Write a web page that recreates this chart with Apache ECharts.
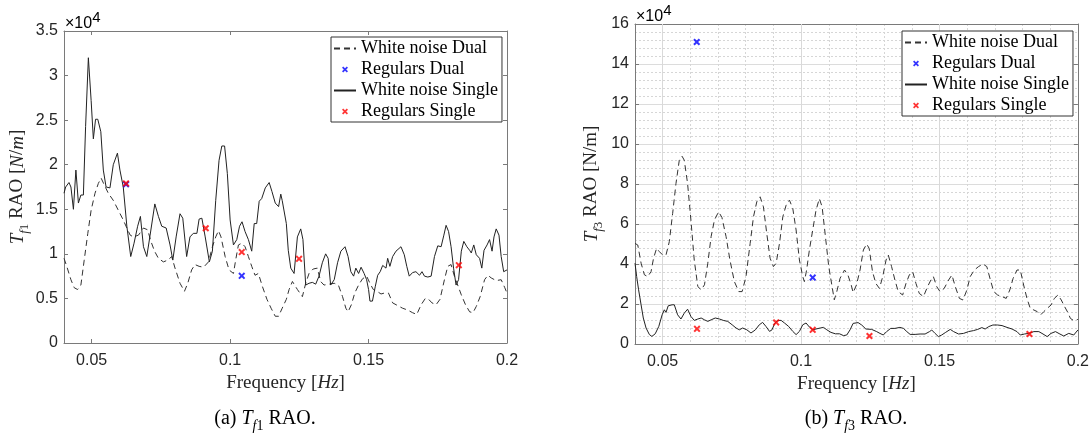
<!DOCTYPE html>
<html><head><meta charset="utf-8">
<script src="https://cdn.jsdelivr.net/npm/echarts@6/dist/echarts.min.js"></script>
<style>html,body{margin:0;padding:0;background:#fff}#c{width:1092px;height:436px}</style>
</head><body><div id="c"></div>
<script>
// ---------- data (frequency [Hz], RAO in units of 1e4 N/m) ----------
const xTickValues = [0.05, 0.1, 0.15, 0.2];
const xRange = [0.04, 0.2];
const yRangeA = [0, 3.5], yStepA = 0.5;
const yRangeB = [0, 16], yStepB = 2;
const legendNames = ['White noise Dual', 'Regulars Dual', 'White noise Single', 'Regulars Single'];

const tf1WhiteSingle = [[0.0400,1.68],[0.0406,1.75],[0.0418,1.80],[0.0425,1.75],[0.0434,1.50],[0.0443,1.94],[0.0452,1.57],[0.0461,1.66],[0.0470,1.66],[0.0478,2.43],[0.0488,3.20],[0.0498,2.72],[0.0506,2.29],[0.0514,2.51],[0.0522,2.51],[0.0533,2.37],[0.0542,1.94],[0.0552,1.75],[0.0566,1.74],[0.0578,2.00],[0.0593,2.13],[0.0602,1.94],[0.0614,1.75],[0.0627,1.31],[0.0641,0.97],[0.0653,1.12],[0.0666,1.31],[0.0676,1.42],[0.0687,1.08],[0.0699,0.97],[0.0711,1.21],[0.0728,1.56],[0.0741,1.42],[0.0753,1.31],[0.0769,1.29],[0.0783,1.10],[0.0793,0.93],[0.0805,1.19],[0.0819,1.45],[0.0829,1.40],[0.0843,0.97],[0.0855,1.19],[0.0867,1.23],[0.0880,1.23],[0.0888,1.39],[0.0898,1.40],[0.0910,1.19],[0.0925,0.91],[0.0936,1.03],[0.0948,1.60],[0.0960,2.05],[0.0970,2.21],[0.0980,2.21],[0.0990,1.90],[0.1000,1.38],[0.1012,1.10],[0.1024,1.16],[0.1034,1.31],[0.1043,1.36],[0.1054,1.25],[0.1066,1.16],[0.1078,1.03],[0.1087,1.34],[0.1096,1.34],[0.1105,1.59],[0.1114,1.62],[0.1127,1.74],[0.1141,1.80],[0.1151,1.70],[0.1163,1.57],[0.1175,1.53],[0.1183,1.67],[0.1188,1.60],[0.1203,1.34],[0.1210,1.04],[0.1219,0.84],[0.1231,0.78],[0.1243,1.19],[0.1255,1.28],[0.1263,1.16],[0.1273,0.65],[0.1285,0.67],[0.1297,0.68],[0.1309,0.66],[0.1321,0.75],[0.1333,0.90],[0.1345,1.00],[0.1354,0.95],[0.1363,0.65],[0.1376,0.71],[0.1388,0.90],[0.1400,1.03],[0.1415,1.08],[0.1426,0.97],[0.1436,0.80],[0.1446,0.75],[0.1454,0.84],[0.1464,0.78],[0.1473,0.85],[0.1484,0.78],[0.1493,0.71],[0.1500,0.60],[0.1505,0.47],[0.1514,0.47],[0.1524,0.63],[0.1533,0.76],[0.1542,0.80],[0.1551,0.87],[0.1563,0.84],[0.1569,0.95],[0.1577,0.86],[0.1587,0.97],[0.1599,1.03],[0.1617,1.08],[0.1629,0.99],[0.1638,0.86],[0.1647,0.75],[0.1659,0.79],[0.1671,0.80],[0.1684,0.76],[0.1693,0.80],[0.1702,0.75],[0.1714,0.74],[0.1726,0.75],[0.1738,0.97],[0.1750,1.09],[0.1762,1.08],[0.1772,1.21],[0.1780,1.32],[0.1789,1.25],[0.1798,1.08],[0.1807,0.84],[0.1816,0.65],[0.1825,0.71],[0.1835,1.03],[0.1844,1.14],[0.1855,1.08],[0.1865,1.04],[0.1871,1.01],[0.1880,1.10],[0.1889,0.99],[0.1901,0.95],[0.1909,0.84],[0.1917,1.04],[0.1928,1.10],[0.1937,1.16],[0.1946,1.03],[0.1953,1.19],[0.1961,1.28],[0.1971,1.21],[0.1979,0.97],[0.1988,0.80],[0.2000,0.82]];

const tf1WhiteDual = [[0.0400,0.95],[0.0410,0.86],[0.0425,0.71],[0.0437,0.62],[0.0449,0.60],[0.0461,0.65],[0.0473,0.93],[0.0486,1.23],[0.0498,1.49],[0.0512,1.68],[0.0524,1.79],[0.0534,1.85],[0.0546,1.77],[0.0560,1.68],[0.0578,1.60],[0.0596,1.49],[0.0614,1.38],[0.0627,1.29],[0.0639,1.21],[0.0651,1.19],[0.0669,1.21],[0.0687,1.29],[0.0702,1.27],[0.0714,1.14],[0.0727,1.03],[0.0741,0.95],[0.0759,0.91],[0.0775,0.93],[0.0789,0.97],[0.0801,0.84],[0.0819,0.67],[0.0835,0.58],[0.0847,0.67],[0.0861,0.82],[0.0873,0.88],[0.0888,0.86],[0.0904,0.85],[0.0922,0.91],[0.0936,1.08],[0.0948,1.19],[0.0958,1.26],[0.0967,1.19],[0.0982,0.97],[0.0996,0.82],[0.1012,0.78],[0.1020,0.93],[0.1030,1.10],[0.1042,1.12],[0.1054,1.08],[0.1066,0.97],[0.1078,0.86],[0.1090,0.76],[0.1102,0.78],[0.1117,0.63],[0.1133,0.49],[0.1148,0.39],[0.1163,0.30],[0.1175,0.30],[0.1188,0.39],[0.1203,0.49],[0.1213,0.60],[0.1225,0.69],[0.1243,0.60],[0.1261,0.52],[0.1273,0.67],[0.1285,0.78],[0.1300,0.83],[0.1315,0.84],[0.1327,0.69],[0.1339,0.65],[0.1357,0.66],[0.1376,0.67],[0.1391,0.65],[0.1406,0.52],[0.1418,0.39],[0.1426,0.35],[0.1438,0.43],[0.1450,0.56],[0.1464,0.65],[0.1478,0.72],[0.1493,0.75],[0.1505,0.67],[0.1517,0.60],[0.1530,0.58],[0.1545,0.55],[0.1557,0.56],[0.1572,0.56],[0.1587,0.45],[0.1605,0.42],[0.1623,0.39],[0.1641,0.37],[0.1659,0.34],[0.1674,0.32],[0.1690,0.43],[0.1705,0.50],[0.1717,0.49],[0.1729,0.45],[0.1744,0.43],[0.1758,0.49],[0.1774,0.71],[0.1786,0.86],[0.1798,0.88],[0.1810,0.75],[0.1822,0.65],[0.1835,0.54],[0.1850,0.43],[0.1865,0.35],[0.1877,0.34],[0.1889,0.41],[0.1903,0.52],[0.1919,0.71],[0.1931,0.76],[0.1943,0.73],[0.1961,0.70],[0.1979,0.71],[0.1992,0.62],[0.2000,0.56]];

const tf1RegularsDual = [[0.0624,1.78],[0.1042,0.754]];
const tf1RegularsSingle = [[0.0624,1.79],[0.0912,1.287],[0.1042,1.02],[0.1249,0.944],[0.1826,0.873]];

const tf3WhiteDual = [[0.0400,5.03],[0.0410,4.95],[0.0422,4.04],[0.0434,3.46],[0.0446,3.37],[0.0458,3.62],[0.0467,4.29],[0.0478,4.78],[0.0488,4.62],[0.0500,4.45],[0.0512,4.45],[0.0524,5.12],[0.0536,6.53],[0.0548,8.02],[0.0560,9.19],[0.0570,9.39],[0.0578,9.19],[0.0590,8.02],[0.0602,6.20],[0.0614,4.20],[0.0627,2.87],[0.0639,2.71],[0.0651,2.96],[0.0663,4.04],[0.0675,5.37],[0.0687,6.20],[0.0702,6.61],[0.0714,6.33],[0.0729,5.37],[0.0743,4.20],[0.0759,3.12],[0.0775,2.62],[0.0787,2.62],[0.0801,3.37],[0.0816,5.03],[0.0828,6.36],[0.0840,7.11],[0.0852,7.36],[0.0864,6.86],[0.0876,5.53],[0.0888,4.29],[0.0900,3.87],[0.0910,4.04],[0.0922,5.03],[0.0934,6.36],[0.0946,6.94],[0.0958,7.19],[0.0970,6.78],[0.0982,5.70],[0.0994,4.20],[0.1006,3.37],[0.1012,3.12],[0.1020,3.70],[0.1030,4.70],[0.1042,5.70],[0.1054,6.69],[0.1066,7.27],[0.1076,6.86],[0.1088,5.37],[0.1100,3.87],[0.1112,2.87],[0.1120,2.21],[0.1129,2.62],[0.1141,3.29],[0.1157,3.70],[0.1169,3.46],[0.1181,2.96],[0.1188,2.57],[0.1200,2.95],[0.1213,3.70],[0.1225,4.70],[0.1237,5.00],[0.1246,4.78],[0.1258,3.62],[0.1270,3.03],[0.1283,2.78],[0.1295,3.37],[0.1307,4.20],[0.1315,4.45],[0.1327,3.87],[0.1339,3.20],[0.1351,2.62],[0.1367,2.45],[0.1379,3.03],[0.1391,3.45],[0.1403,3.62],[0.1415,3.03],[0.1427,2.53],[0.1442,2.37],[0.1457,2.87],[0.1469,3.20],[0.1478,3.37],[0.1490,2.87],[0.1502,2.62],[0.1517,2.78],[0.1533,3.20],[0.1545,3.45],[0.1557,2.87],[0.1572,2.28],[0.1585,2.20],[0.1599,2.70],[0.1611,3.37],[0.1626,3.70],[0.1641,3.87],[0.1657,4.00],[0.1671,3.87],[0.1684,3.20],[0.1696,2.62],[0.1710,2.45],[0.1726,2.37],[0.1741,2.28],[0.1754,2.70],[0.1766,3.28],[0.1780,3.70],[0.1792,3.70],[0.1804,2.95],[0.1816,2.28],[0.1828,1.78],[0.1841,1.70],[0.1853,1.62],[0.1865,1.45],[0.1877,1.62],[0.1889,1.78],[0.1903,1.95],[0.1915,2.28],[0.1928,2.45],[0.1940,2.20],[0.1952,1.87],[0.1964,1.57],[0.1973,1.28],[0.1985,1.17],[0.2000,1.23]];

const tf3WhiteSingle = [[0.0400,4.04],[0.0406,3.37],[0.0413,2.71],[0.0422,1.96],[0.0430,1.30],[0.0440,0.80],[0.0452,0.47],[0.0461,0.38],[0.0473,0.51],[0.0486,0.88],[0.0498,1.46],[0.0506,1.71],[0.0512,1.58],[0.0520,1.91],[0.0534,1.96],[0.0542,1.96],[0.0554,1.46],[0.0566,1.25],[0.0578,1.54],[0.0590,1.74],[0.0602,1.38],[0.0614,1.18],[0.0627,1.25],[0.0639,1.30],[0.0651,1.21],[0.0663,1.13],[0.0675,1.21],[0.0690,1.30],[0.0705,1.25],[0.0719,1.18],[0.0735,1.13],[0.0751,0.96],[0.0765,0.80],[0.0777,0.71],[0.0789,0.80],[0.0804,0.71],[0.0819,0.55],[0.0835,0.71],[0.0849,0.96],[0.0861,1.08],[0.0873,0.88],[0.0886,0.63],[0.0895,0.71],[0.0904,1.01],[0.0916,1.18],[0.0928,1.18],[0.0940,1.05],[0.0955,0.88],[0.0970,0.63],[0.0982,0.47],[0.0994,0.63],[0.1006,0.96],[0.1018,1.05],[0.1030,0.85],[0.1042,0.71],[0.1054,0.75],[0.1069,0.80],[0.1081,0.83],[0.1093,0.71],[0.1108,0.58],[0.1124,0.51],[0.1139,0.51],[0.1153,0.42],[0.1165,0.45],[0.1177,0.71],[0.1188,1.03],[0.1206,1.07],[0.1219,0.95],[0.1234,0.75],[0.1255,0.73],[0.1273,0.62],[0.1285,0.53],[0.1297,0.45],[0.1309,0.62],[0.1324,0.78],[0.1339,0.78],[0.1357,0.83],[0.1370,0.78],[0.1382,0.62],[0.1394,0.48],[0.1412,0.48],[0.1430,0.50],[0.1448,0.50],[0.1464,0.62],[0.1472,0.70],[0.1484,0.53],[0.1496,0.37],[0.1508,0.45],[0.1521,0.57],[0.1539,0.73],[0.1551,0.62],[0.1569,0.50],[0.1587,0.53],[0.1605,0.62],[0.1623,0.67],[0.1638,0.73],[0.1653,0.82],[0.1665,0.75],[0.1678,0.87],[0.1693,0.95],[0.1710,0.95],[0.1726,0.92],[0.1744,0.83],[0.1762,0.75],[0.1780,0.62],[0.1792,0.45],[0.1807,0.50],[0.1822,0.53],[0.1841,0.62],[0.1859,0.62],[0.1874,0.50],[0.1889,0.37],[0.1903,0.53],[0.1919,0.62],[0.1935,0.50],[0.1949,0.40],[0.1967,0.53],[0.1985,0.45],[0.2000,0.70]];

const tf3RegularsDual = [[0.0623,15.1],[0.1042,3.32]];
const tf3RegularsSingle = [[0.0624,0.76],[0.0910,1.08],[0.1042,0.71],[0.1247,0.40],[0.1825,0.50]];

// ---------- styling ----------
const SERIF = "'Liberation Serif','Times New Roman',serif";
const SANS = "'Liberation Sans',Arial,sans-serif";
const AX = '#7a7a7a', TXT = '#262626';
const XMARK = 'path://M0,2L2,0L5,3L8,0L10,2L7,5L10,8L8,10L5,7L2,10L0,8L3,5Z';

function mathRich(fs) {
  const lh = fs + 4, fsS = Math.round(fs * 0.7);
  return {
    m:  {fontFamily: SERIF, fontSize: fs, color: TXT, lineHeight: lh, verticalAlign: 'top'},
    it: {fontFamily: SERIF, fontSize: fs, color: TXT, lineHeight: lh, verticalAlign: 'top', fontStyle: 'italic'},
    si: {fontFamily: SERIF, fontSize: fsS, color: TXT, lineHeight: 12, verticalAlign: 'bottom', fontStyle: 'italic'},
    sm: {fontFamily: SERIF, fontSize: fsS, color: TXT, lineHeight: 12, verticalAlign: 'bottom'}
  };
}

function xAxisCfg(gridIndex, position, main) {
  return {
    type: 'value', gridIndex, position, min: xRange[0], max: xRange[1],
    axisLine: {show: true, onZero: false, lineStyle: {color: AX, width: 1}},
    axisTick: {show: true, inside: true, length: 4, customValues: xTickValues, lineStyle: {color: AX}},
    axisLabel: {show: main, customValues: xTickValues, margin: 10, color: TXT, fontFamily: SANS, fontSize: 16,
      formatter: v => String(+(+v).toFixed(3))},
    splitLine: {show: false},
    name: main ? '{m|Frequency [}{it|Hz}{m|]}' : '',
    nameLocation: 'middle', nameGap: 26,
    nameTextStyle: {rich: mathRich(19)}
  };
}
function yAxisCfg(gridIndex, position, main, range, step, name, gap, grid) {
  const c = {
    type: 'value', gridIndex, position, min: range[0], max: range[1], interval: step,
    axisLine: {show: true, onZero: false, lineStyle: {color: AX, width: 1}},
    axisTick: {show: true, inside: true, length: 4, lineStyle: {color: AX}},
    axisLabel: {show: main, margin: 6, color: TXT, fontFamily: SANS, fontSize: 16},
    splitLine: {show: false},
    name: main ? name : '', nameLocation: 'middle', nameGap: gap, nameRotate: 90,
    nameTextStyle: {rich: mathRich(19)}
  };
  if (grid) {
    c.splitLine = {show: true, lineStyle: {color: '#dcdcdc', width: 1, type: 'solid'}};
    c.minorTick = {show: false, splitNumber: 5};
    c.minorSplitLine = {show: true, lineStyle: {color: '#d6d6d6', width: 1, type: [2, 2]}};
  }
  return c;
}

function lineSeries(name, data, xi, yi, dashed) {
  return {
    name, type: 'line', data, xAxisIndex: xi, yAxisIndex: yi,
    symbol: 'none', showSymbol: false, smooth: false, z: 3,
    itemStyle: {color: dashed ? '#333333' : '#222222'},
    lineStyle: {color: dashed ? '#333333' : '#222222', width: 1, type: dashed ? [6, 4] : 'solid'}
  };
}
function scatterSeries(name, data, xi, yi, color) {
  return {
    name, type: 'scatter', data, xAxisIndex: xi, yAxisIndex: yi,
    symbol: XMARK, symbolSize: 7, z: 4, itemStyle: {color}
  };
}

function legendCfg(left, top) {
  return {
    // line entries: hide the default centre dot so only the line sample shows
    data: legendNames.map(n => n.indexOf('White') === 0 ? {name: n, itemStyle: {opacity: 0}} : {name: n}),
    orient: 'vertical', left, top,
    itemWidth: 22, itemHeight: 6, itemGap: 2, padding: [2, 4, 1, 2],
    backgroundColor: '#fff', borderColor: '#333', borderWidth: 1, borderRadius: 0,
    selectedMode: false,
    textStyle: {fontFamily: SERIF, fontSize: 18, color: '#000', lineHeight: 19}
  };
}

const chart = echarts.init(document.getElementById('c'), null, {renderer: 'canvas'});
chart.setOption({
  animation: false,
  backgroundColor: '#fff',
  grid: [
    {left: 64, top: 31, width: 443, height: 312, containLabel: false},
    {left: 635, top: 24, width: 443, height: 320, containLabel: false}
  ],
  xAxis: [
    xAxisCfg(0, 'bottom', true), xAxisCfg(0, 'top', false),
    xAxisCfg(1, 'bottom', true), xAxisCfg(1, 'top', false),
    {type: 'value', gridIndex: 1, position: 'bottom', min: xRange[0], max: xRange[1], interval: 0.01,
     axisLine: {show: false}, axisTick: {show: false}, axisLabel: {show: false},
     splitLine: {show: true, lineStyle: {color: '#d6d6d6', width: 1, type: [2, 2]}}}
  ],
  yAxis: [
    yAxisCfg(0, 'left', true, yRangeA, yStepA, '{it|T}{si|f}{sm|1}{m| RAO [}{it|N}{m|/}{it|m}{m|]}', 33, false),
    yAxisCfg(0, 'right', false, yRangeA, yStepA, '', 0, false),
    yAxisCfg(1, 'left', true, yRangeB, yStepB, '{it|T}{si|f}{sm|3}{m| RAO [N/m]}', 30, true),
    yAxisCfg(1, 'right', false, yRangeB, yStepB, '', 0, false)
  ],
  legend: [legendCfg(331, 37), legendCfg(902, 31)],
  series: [
    {type: 'line', name: 'majorGrid', xAxisIndex: 2, yAxisIndex: 2, data: [], silent: true, z: 1,
     markLine: {silent: true, z: 1, symbol: ['none', 'none'], label: {show: false},
       lineStyle: {color: '#d9d9d9', width: 1, type: 'solid'},
       data: xTickValues.filter(v => v < xRange[1]).map(v => ({xAxis: v}))}},
    lineSeries('White noise Dual', tf1WhiteDual, 0, 0, true),
    scatterSeries('Regulars Dual', tf1RegularsDual, 0, 0, '#0000ff'),
    lineSeries('White noise Single', tf1WhiteSingle, 0, 0, false),
    scatterSeries('Regulars Single', tf1RegularsSingle, 0, 0, '#ff0000'),
    lineSeries('White noise Dual', tf3WhiteDual, 2, 2, true),
    scatterSeries('Regulars Dual', tf3RegularsDual, 2, 2, '#0000ff'),
    lineSeries('White noise Single', tf3WhiteSingle, 2, 2, false),
    scatterSeries('Regulars Single', tf3RegularsSingle, 2, 2, '#ff0000')
  ],
  graphic: [
    {type: 'text', x: 65, y: 10, silent: true, style: {text: '{m|×10}{s|4}', align: 'left', verticalAlign: 'top',
      rich: {m: {fontFamily: SANS, fontSize: 16, color: TXT, lineHeight: 22, verticalAlign: 'bottom'},
             s: {fontFamily: SANS, fontSize: 15, color: TXT, lineHeight: 14, verticalAlign: 'top'}}}},
    {type: 'text', x: 636, y: 3, silent: true, style: {text: '{m|×10}{s|4}', align: 'left', verticalAlign: 'top',
      rich: {m: {fontFamily: SANS, fontSize: 16, color: TXT, lineHeight: 22, verticalAlign: 'bottom'},
             s: {fontFamily: SANS, fontSize: 15, color: TXT, lineHeight: 14, verticalAlign: 'top'}}}},
    {type: 'text', x: 265, y: 421, silent: true, style: {text: '{m|(a) }{it|T}{si|f}{sm|1}{m| RAO.}',
      align: 'center', verticalAlign: 'middle', rich: mathRich(20)}},
    {type: 'text', x: 856, y: 421, silent: true, style: {text: '{m|(b) }{it|T}{si|f}{sm|3}{m| RAO.}',
      align: 'center', verticalAlign: 'middle', rich: mathRich(20)}}
  ]
});
</script>
</body></html>
